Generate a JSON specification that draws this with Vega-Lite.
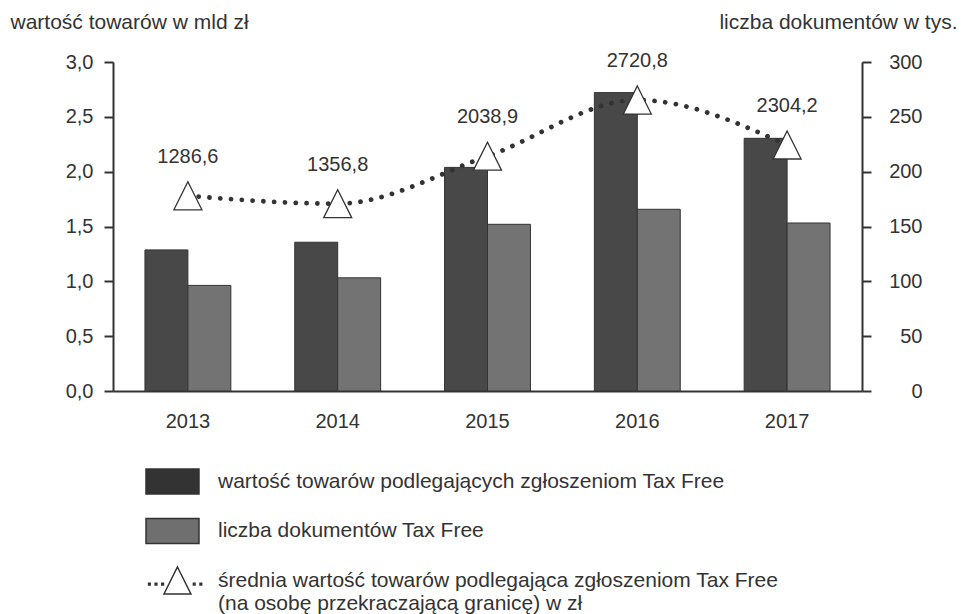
{
  "$schema": "https://vega.github.io/schema/vega-lite/v6.json",
  "width": 749,
  "height": 329,
  "autosize": {"type": "none"},
  "padding": {"left": 113, "top": 62, "right": 100, "bottom": 223},
  "background": "white",
  "config": {
    "view": {"stroke": null},
    "font": "Liberation Sans",
    "axis": {
      "labelFont": "Liberation Sans", "labelFontSize": 20, "labelColor": "#333333",
      "domainColor": "#333333", "domainWidth": 2, "tickColor": "#333333", "tickWidth": 2, "tickSize": 9,
      "grid": false, "titleFont": "Liberation Sans", "titleFontSize": 21, "titleFontWeight": "normal", "titleColor": "#333333"
    },
    "legend": {"labelFont": "Liberation Sans", "labelFontSize": 21, "labelColor": "#333333"}
  },
  "datasets": {
    "slupki": [
      {"rok": "2013", "seria": "wartość towarów podlegających zgłoszeniom Tax Free", "wartosc": 1.2866},
      {"rok": "2014", "seria": "wartość towarów podlegających zgłoszeniom Tax Free", "wartosc": 1.3568},
      {"rok": "2015", "seria": "wartość towarów podlegających zgłoszeniom Tax Free", "wartosc": 2.0389},
      {"rok": "2016", "seria": "wartość towarów podlegających zgłoszeniom Tax Free", "wartosc": 2.7208},
      {"rok": "2017", "seria": "wartość towarów podlegających zgłoszeniom Tax Free", "wartosc": 2.3042},
      {"rok": "2013", "seria": "liczba dokumentów Tax Free", "wartosc": 96.3},
      {"rok": "2014", "seria": "liczba dokumentów Tax Free", "wartosc": 103.2},
      {"rok": "2015", "seria": "liczba dokumentów Tax Free", "wartosc": 152.0},
      {"rok": "2016", "seria": "liczba dokumentów Tax Free", "wartosc": 165.7},
      {"rok": "2017", "seria": "liczba dokumentów Tax Free", "wartosc": 153.2}
    ],
    "srednia": [
      {"rok": "2013", "poziom": 1.780, "etykieta": "1286,6"},
      {"rok": "2014", "poziom": 1.708, "etykieta": "1356,8"},
      {"rok": "2015", "poziom": 2.141, "etykieta": "2038,9"},
      {"rok": "2016", "poziom": 2.653, "etykieta": "2720,8"},
      {"rok": "2017", "poziom": 2.243, "etykieta": "2304,2"}
    ]
  },
  "layer": [
    {
      "data": {"name": "slupki"},
      "transform": [{"filter": "datum.seria == 'wartość towarów podlegających zgłoszeniom Tax Free'"}],
      "mark": {"type": "bar", "fill": "#484848", "stroke": "#333333", "strokeWidth": 1},
      "encoding": {
        "x": {"field": "rok", "type": "ordinal", "scale": {"paddingInner": 0.4267, "paddingOuter": 0.2133},
          "axis": {"title": null, "ticks": false, "labelPadding": 20, "labelAngle": 0, "domain": true}},
        "xOffset": {"field": "seria", "type": "nominal",
          "scale": {"domain": ["wartość towarów podlegających zgłoszeniom Tax Free", "liczba dokumentów Tax Free"], "paddingInner": 0, "paddingOuter": 0}},
        "y": {"field": "wartosc", "type": "quantitative", "scale": {"domain": [0, 3]},
          "axis": {"orient": "left", "values": [0, 0.5, 1, 1.5, 2, 2.5, 3],
            "labelExpr": "replace(format(datum.value, '.1f'), '.', ',')", "labelPadding": 11,
            "title": "wartość towarów w mld zł", "titleAngle": 0, "titleAlign": "left", "titleBaseline": "middle",
            "titleX": -103, "titleY": -40}}
      }
    },
    {
      "data": {"name": "slupki"},
      "transform": [{"filter": "datum.seria == 'liczba dokumentów Tax Free'"}],
      "mark": {"type": "bar", "fill": "#737373", "stroke": "#333333", "strokeWidth": 1},
      "encoding": {
        "x": {"field": "rok", "type": "ordinal"},
        "xOffset": {"field": "seria", "type": "nominal"},
        "y": {"field": "wartosc", "type": "quantitative", "scale": {"domain": [0, 300]},
          "axis": {"orient": "right", "values": [0, 50, 100, 150, 200, 250, 300],
            "labelAlign": "right", "labelPadding": 51,
            "title": "liczba dokumentów w tys.", "titleAngle": 0, "titleAlign": "right", "titleBaseline": "middle",
            "titleX": 95, "titleY": -40}}
      }
    },
    {
      "data": {"name": "srednia"},
      "encoding": {
        "x": {"field": "rok", "type": "ordinal"},
        "y": {"field": "poziom", "type": "quantitative", "scale": {"domain": [0, 3]}, "axis": null}
      },
      "layer": [
        {"mark": {"type": "line", "interpolate": "monotone", "stroke": "#333333", "strokeWidth": 4.8, "strokeDash": [0.01, 10.8], "strokeCap": "round"}},
        {"mark": {"type": "point", "shape": "M0,-1L1,1L-1,1Z", "size": 784, "filled": true, "fill": "#ffffff", "stroke": "#333333", "strokeWidth": 1.3, "opacity": 1}},
        {"mark": {"type": "text", "dy": -39, "fontSize": 20, "font": "Liberation Sans", "color": "#333333"},
          "encoding": {"text": {"field": "etykieta"}}}
      ]
    },
    {
      "data": {"values": []},
      "mark": {"type": "point", "filled": true, "opacity": 1, "stroke": "#333333", "strokeWidth": 1.5},
      "encoding": {
        "color": {"field": "seria", "type": "nominal",
          "scale": {"domain": ["wartość towarów podlegających zgłoszeniom Tax Free", "liczba dokumentów Tax Free", "średnia wartość towarów podlegająca zgłoszeniom Tax Free"],
            "range": ["#333333", "#6f6f6f", "#ffffff"]},
          "legend": {"orient": "none", "legendX": 31, "legendY": 391, "direction": "vertical", "title": null,
            "symbolSize": 3025, "symbolStrokeColor": "#333333", "symbolStrokeWidth": 1.5,
            "labelOffset": 17, "labelLimit": 800, "rowPadding": 5.5, "labelBaseline": "middle",
            "labelExpr": "datum.label == 'średnia wartość towarów podlegająca zgłoszeniom Tax Free' ? ['średnia wartość towarów podlegająca zgłoszeniom Tax Free', '(na osobę przekraczającą granicę) w zł'] : datum.label"}},
        "shape": {"field": "seria", "type": "nominal",
          "scale": {"domain": ["wartość towarów podlegających zgłoszeniom Tax Free", "liczba dokumentów Tax Free", "średnia wartość towarów podlegająca zgłoszeniom Tax Free"],
            "range": ["M-0.9636,-0.4545L0.9636,-0.4545L0.9636,0.4545L-0.9636,0.4545Z", "M-0.9636,-0.4545L0.9636,-0.4545L0.9636,0.4545L-0.9636,0.4545Z",
              "M0.18,-0.49L0.67,0.49L-0.31,0.49Z M-0.87,0.10L-0.81,0.10L-0.81,0.16L-0.87,0.16Z M-0.63,0.10L-0.57,0.10L-0.57,0.16L-0.63,0.16Z M-0.39,0.10L-0.33,0.10L-0.33,0.16L-0.39,0.16Z M0.76,0.10L0.82,0.10L0.82,0.16L0.76,0.16Z M1.0,0.10L1.06,0.10L1.06,0.16L1.0,0.16Z"]},
          "legend": {"orient": "none", "legendX": 31, "legendY": 391, "direction": "vertical", "title": null,
            "symbolSize": 3025, "symbolStrokeColor": "#333333", "symbolStrokeWidth": 1.5,
            "labelOffset": 17, "labelLimit": 800, "rowPadding": 5.5, "labelBaseline": "middle",
            "labelExpr": "datum.label == 'średnia wartość towarów podlegająca zgłoszeniom Tax Free' ? ['średnia wartość towarów podlegająca zgłoszeniom Tax Free', '(na osobę przekraczającą granicę) w zł'] : datum.label"}}
      }
    }
  ],
  "resolve": {"scale": {"y": "independent"}}
}
